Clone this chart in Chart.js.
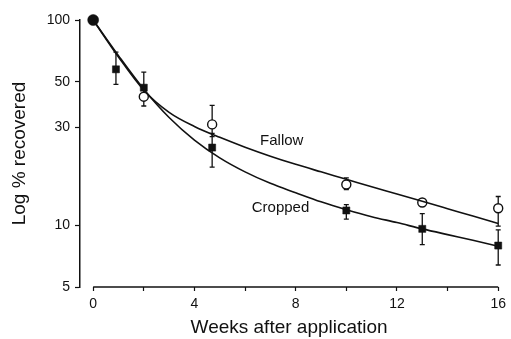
<!DOCTYPE html>
<html>
<head>
<meta charset="utf-8">
<script src="https://cdn.jsdelivr.net/npm/chart.js@4.4.1/dist/chart.umd.min.js"></script>
<style>
  html, body { margin: 0; padding: 0; background: #fff; }
  #wrap { width: 511px; height: 339px; }
</style>
</head>
<body>
<div id="wrap"><canvas id="chart" width="511" height="339"></canvas></div>
<script>
// measured points
const startWeek = [0];
const startPct = [100];

const fallowWeeks = [2, 4.7, 10, 13, 16];
const fallowPct = [42.3, 31.0, 15.8, 12.9, 12.1];
const fallowLow = [38.1, 27, 14.9, 12.9, 9.9];
const fallowHigh = [46, 38.4, 17.0, 12.9, 13.8];

const croppedWeeks = [0.9, 2, 4.7, 10, 13, 16];
const croppedPct = [57.5, 46.8, 23.9, 11.8, 9.6, 7.96];
const croppedLow = [48.6, 42, 19.2, 10.7, 8.05, 6.4];
const croppedHigh = [69.8, 55.7, 28, 12.6, 11.4, 9.5];

const curveWeeks = [0, 1, 2, 3, 4, 5, 6, 7, 8, 9, 10, 11, 12, 13, 14, 15, 16];
const fallowFit = [100, 66, 45.5, 35.5, 30.3, 26.8, 24, 21.7, 19.8, 18.2, 16.75, 15.4, 14.2, 13.08, 12.04, 11.08, 10.2];
const croppedFit = [100, 67, 46, 33.5, 26, 21.3, 18.2, 16.0, 14.4, 13.0, 11.9, 11.0, 10.3, 9.6, 9.0, 8.45, 7.9];

const yTicks = [5, 10, 30, 50, 100];
const xTicks = [0, 2, 4, 6, 8, 10, 12, 14, 16];

const curveLabels = [
  { text: "Fallow", week: 7.45, pct: 25.9 },
  { text: "Cropped", week: 7.4, pct: 12.2 }
];

const ink = "#111";
const font = "'Liberation Sans', Arial, Helvetica, sans-serif";

function pairs(xs, ys) {
  return xs.map((x, i) => ({ x: x, y: ys[i] }));
}

const extras = {
  id: "extras",
  beforeDatasetsDraw(chart) {
    const ctx = chart.ctx;
    const xs = chart.scales.x;
    const ys = chart.scales.y;
    ctx.save();
    // x axis line from 0 to 16
    ctx.strokeStyle = ink;
    ctx.lineWidth = 1.5;
    ctx.beginPath();
    ctx.moveTo(xs.getPixelForValue(0), chart.chartArea.bottom);
    ctx.lineTo(xs.getPixelForValue(16), chart.chartArea.bottom);
    ctx.stroke();
    // error bars
    const bars = [
      [fallowWeeks, fallowLow, fallowHigh],
      [croppedWeeks, croppedLow, croppedHigh]
    ];
    ctx.lineWidth = 1.3;
    bars.forEach(([w, lo, hi]) => {
      w.forEach((wk, i) => {
        if (lo[i] === hi[i]) return;
        const px = xs.getPixelForValue(wk);
        const p1 = ys.getPixelForValue(lo[i]);
        const p2 = ys.getPixelForValue(hi[i]);
        ctx.beginPath();
        ctx.moveTo(px, p1); ctx.lineTo(px, p2);
        ctx.moveTo(px - 2.5, p1); ctx.lineTo(px + 2.5, p1);
        ctx.moveTo(px - 2.5, p2); ctx.lineTo(px + 2.5, p2);
        ctx.stroke();
      });
    });
    // curve labels
    ctx.fillStyle = ink;
    ctx.font = "15px " + font;
    ctx.textAlign = "center";
    ctx.textBaseline = "middle";
    curveLabels.forEach(l => {
      ctx.fillText(l.text, xs.getPixelForValue(l.week), ys.getPixelForValue(l.pct));
    });
    ctx.restore();
  }
};

new Chart(document.getElementById("chart"), {
  type: "scatter",
  data: {
    datasets: [
      {
        type: "line",
        data: pairs(curveWeeks, fallowFit),
        borderColor: ink,
        borderWidth: 1.6,
        pointRadius: 0,
        cubicInterpolationMode: "monotone",
        clip: false
      },
      {
        type: "line",
        data: pairs(curveWeeks, croppedFit),
        borderColor: ink,
        borderWidth: 1.6,
        pointRadius: 0,
        cubicInterpolationMode: "monotone",
        clip: false
      },
      {
        data: pairs(fallowWeeks, fallowPct),
        pointStyle: "circle",
        pointRadius: 4.5,
        backgroundColor: "#fff",
        borderColor: ink,
        borderWidth: 1.4,
        clip: false
      },
      {
        data: pairs(croppedWeeks, croppedPct),
        pointStyle: "rect",
        pointRadius: 5,
        backgroundColor: ink,
        borderColor: ink,
        borderWidth: 0.5,
        clip: false
      },
      {
        data: pairs(startWeek, startPct),
        pointStyle: "circle",
        pointRadius: 5.5,
        backgroundColor: ink,
        borderColor: ink,
        borderWidth: 0.5,
        clip: false
      }
    ]
  },
  options: {
    responsive: false,
    animation: false,
    layout: { padding: { top: 20, right: 8, left: 0, bottom: 0 } },
    plugins: {
      legend: { display: false },
      tooltip: { enabled: false }
    },
    scales: {
      x: {
        type: "linear",
        min: -0.52,
        max: 16,
        afterBuildTicks: (scale) => { scale.ticks = xTicks.map(v => ({ value: v })); },
        afterFit: (scale) => { scale.height = 52; },
        border: { display: false },
        grid: {
          drawOnChartArea: false,
          tickLength: 4,
          tickColor: ink,
          tickWidth: 1.2
        },
        ticks: {
          color: ink,
          padding: 5,
          maxRotation: 0,
          autoSkip: false,
          font: { family: font, size: 14 },
          callback: (v) => (v % 4 === 0 ? String(v) : "")
        },
        title: {
          display: true,
          text: "Weeks after application",
          color: ink,
          font: { family: font, size: 19 },
          padding: { top: 0, bottom: 0 }
        }
      },
      y: {
        type: "logarithmic",
        min: 5,
        max: 100,
        afterBuildTicks: (scale) => { scale.ticks = yTicks.map(v => ({ value: v })); },
        afterFit: (scale) => { scale.width = 80; },
        border: { display: true, color: ink, width: 1.5 },
        grid: {
          drawOnChartArea: false,
          tickLength: 5,
          tickColor: ink,
          tickWidth: 1.2
        },
        ticks: {
          color: ink,
          padding: 5,
          autoSkip: false,
          font: { family: font, size: 14 },
          callback: (v) => String(v)
        },
        title: {
          display: true,
          text: "Log % recovered",
          color: ink,
          font: { family: font, size: 19 },
          padding: { top: 8, bottom: 0 }
        }
      }
    }
  },
  plugins: [extras]
});
</script>
</body>
</html>
